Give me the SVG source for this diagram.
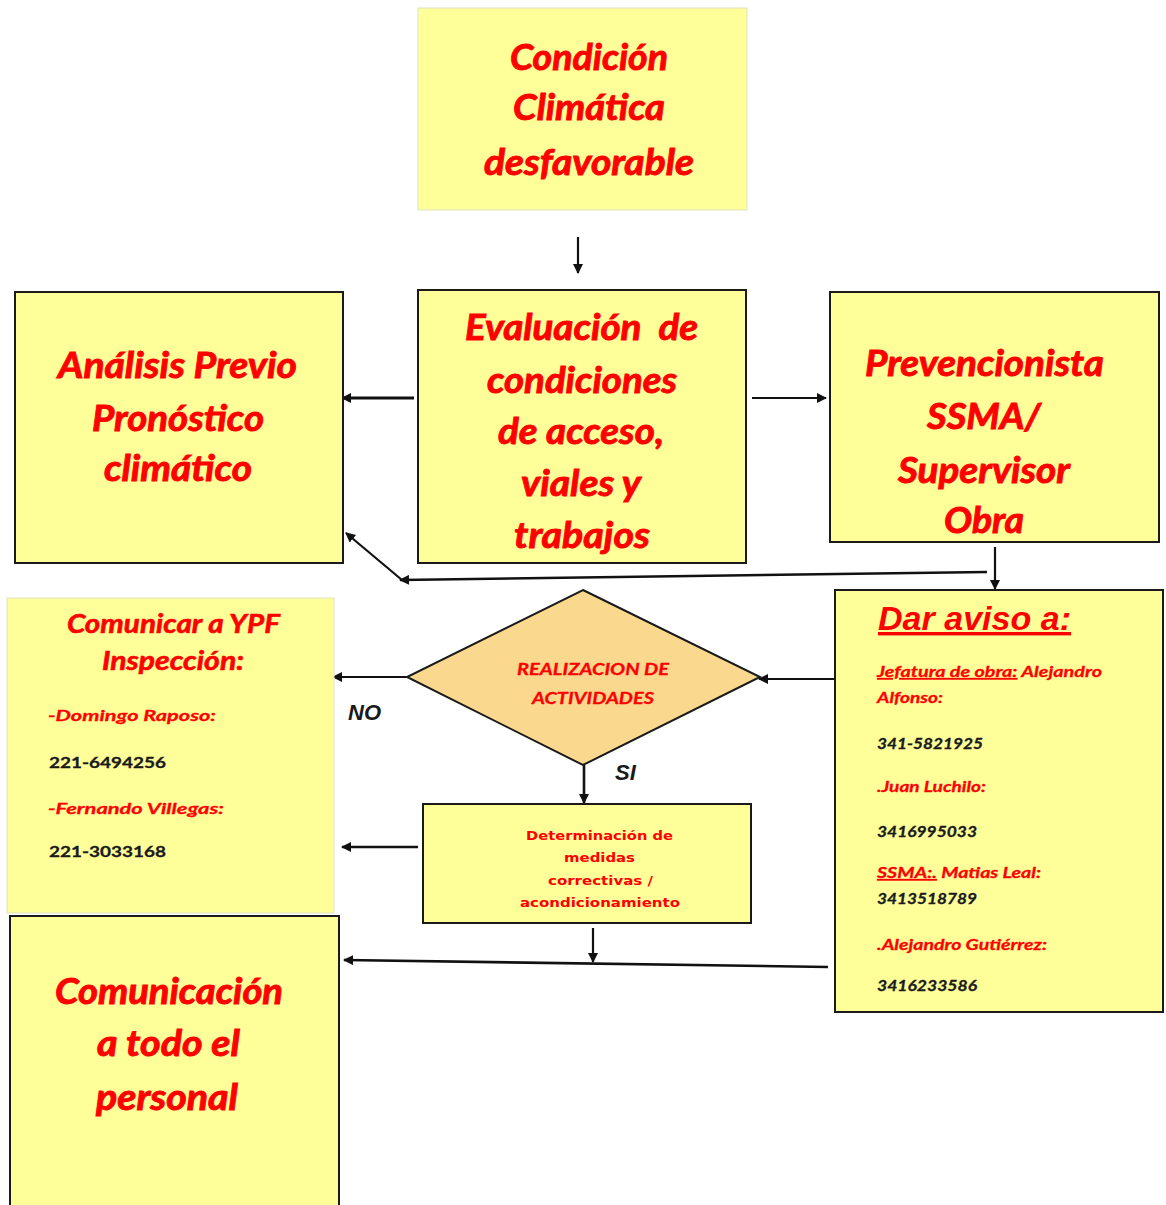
<svg xmlns="http://www.w3.org/2000/svg" width="1166" height="1205" viewBox="0 0 1166 1205">
  <style>
    .box { fill: #FFFF99; stroke: #1a1a1a; stroke-width: 2; }
    .soft { fill: #FFFF99; stroke: #e2e2c4; stroke-width: 1; }
    .dia { fill: #FAD98E; stroke: #1a1a1a; stroke-width: 2; }
    .big { font-family: Lato, "Open Sans", "Liberation Sans", sans-serif; font-weight: 700; font-style: italic; font-size: 36px; fill: #FF0000; stroke: #FF0000; stroke-width: 0.9; }
    .mid { font-family: Lato, "Open Sans", "Liberation Sans", sans-serif; font-weight: 700; font-style: italic; font-size: 27px; fill: #FF0000; stroke: #FF0000; stroke-width: 0.6; }
    .sm { font-family: Lato, "Open Sans", "Liberation Sans", sans-serif; font-weight: 700; font-style: italic; font-size: 16px; fill: #FF0000; stroke: #FF0000; stroke-width: 0.3; }
    .num { font-family: Lato, "Open Sans", "Liberation Sans", sans-serif; font-weight: 700; font-size: 16px; fill: #1a1a1a; stroke: #1a1a1a; stroke-width: 0.3; }
    .numi { font-family: Lato, "Open Sans", "Liberation Sans", sans-serif; font-weight: 700; font-style: italic; font-size: 15px; fill: #1a1a1a; stroke: #1a1a1a; stroke-width: 0.3; }
    .head { font-family: "Liberation Sans", Arial, sans-serif; font-weight: 700; font-style: italic; font-size: 34px; fill: #FF0000; }
    .tiny { font-family: "DejaVu Sans", Verdana, sans-serif; font-weight: 700; font-size: 13px; fill: #FF0000; }
    .dtxt { font-family: Lato, "Open Sans", "Liberation Sans", sans-serif; font-weight: 700; font-style: italic; font-size: 17px; fill: #FF0000; stroke: #FF0000; stroke-width: 0.3; }
    .lbl { font-family: "Liberation Sans", Arial, sans-serif; font-weight: 700; font-style: italic; font-size: 22px; fill: #1a1a1a; }
    .conn path { fill: none; stroke: #111; stroke-width: 2.2; }
    .u { text-decoration: underline; }
  </style>
  <defs>
    <marker id="arrow" viewBox="0 0 10 10" refX="9" refY="5" markerWidth="10" markerHeight="10" markerUnits="userSpaceOnUse" orient="auto">
      <path d="M0,0 L10,5 L0,10 z" fill="#111"/>
    </marker>
  </defs>

  <!-- Connectors -->
  <g id="connectors" class="conn">
    <path d="M578,237 L578,273" marker-end="url(#arrow)"/>
    <path d="M414,398 L342,398" marker-end="url(#arrow)" style="stroke-width:3"/>
    <path d="M752,398 L826,398" marker-end="url(#arrow)"/>
    <path d="M995,547 L995,589" marker-end="url(#arrow)"/>
    <path d="M987,572 L400,580" marker-end="url(#arrow)" style="stroke-width:2.6"/>
    <path d="M402,580 L346,533" marker-end="url(#arrow)"/>
    <path d="M835,679 L759,679" marker-end="url(#arrow)"/>
    <path d="M407,677 L333,677" marker-end="url(#arrow)"/>
    <path d="M584,765 L584,803" marker-end="url(#arrow)" style="stroke-width:2.6"/>
    <path d="M418,847 L342,847" marker-end="url(#arrow)" style="stroke-width:2.6"/>
    <path d="M593,928 L593,962" marker-end="url(#arrow)"/>
    <path d="M828,967 L344,960" marker-end="url(#arrow)" style="stroke-width:2.6"/>
  </g>

  <!-- Condición climática -->
  <g id="condicion">
    <rect class="soft" x="418" y="8" width="329" height="202"/>
    <text class="big" x="510" y="70" textLength="158" lengthAdjust="spacingAndGlyphs">Condición</text>
    <text class="big" x="513" y="120" textLength="152" lengthAdjust="spacingAndGlyphs">Climática</text>
    <text class="big" x="484" y="175" textLength="210" lengthAdjust="spacingAndGlyphs">desfavorable</text>
  </g>

  <!-- Evaluación -->
  <g id="evaluacion">
    <rect class="box" x="418" y="290" width="328" height="273"/>
    <text class="big" x="465" y="340" textLength="233" lengthAdjust="spacingAndGlyphs" xml:space="preserve">Evaluación  de</text>
    <text class="big" x="487" y="393" textLength="190" lengthAdjust="spacingAndGlyphs">condiciones</text>
    <text class="big" x="498" y="444" textLength="166" lengthAdjust="spacingAndGlyphs">de acceso,</text>
    <text class="big" x="521" y="496" textLength="120" lengthAdjust="spacingAndGlyphs">viales y</text>
    <text class="big" x="514" y="548" textLength="136" lengthAdjust="spacingAndGlyphs">trabajos</text>
  </g>

  <!-- Análisis previo -->
  <g id="analisis">
    <rect class="box" x="15" y="292" width="328" height="271"/>
    <text class="big" x="58" y="378" textLength="239" lengthAdjust="spacingAndGlyphs">Análisis Previo</text>
    <text class="big" x="92" y="431" textLength="172" lengthAdjust="spacingAndGlyphs">Pronóstico</text>
    <text class="big" x="104" y="481" textLength="148" lengthAdjust="spacingAndGlyphs">climático</text>
  </g>

  <!-- Prevencionista -->
  <g id="prevencionista">
    <rect class="box" x="830" y="292" width="329" height="250"/>
    <text class="big" x="865" y="376" textLength="239" lengthAdjust="spacingAndGlyphs">Prevencionista</text>
    <text class="big" x="927" y="429" textLength="114" lengthAdjust="spacingAndGlyphs">SSMA/</text>
    <text class="big" x="898" y="483" textLength="172" lengthAdjust="spacingAndGlyphs">Supervisor</text>
    <text class="big" x="944" y="533" textLength="80" lengthAdjust="spacingAndGlyphs">Obra</text>
  </g>

  <!-- Decisión -->
  <g id="decision">
    <path class="dia" d="M583,590 L760,677 L583,765 L407,677 Z"/>
    <text class="dtxt" x="517" y="675" textLength="152" lengthAdjust="spacingAndGlyphs">REALIZACION DE</text>
    <text class="dtxt" x="532" y="704" textLength="122" lengthAdjust="spacingAndGlyphs">ACTIVIDADES</text>
    <text class="lbl" x="348" y="720">NO</text>
    <text class="lbl" x="615" y="780">SI</text>
  </g>

  <!-- Comunicar a YPF -->
  <g id="comunicar-ypf">
    <rect class="soft" x="7" y="598" width="327" height="315"/>
    <text class="mid" x="67" y="633" textLength="213" lengthAdjust="spacingAndGlyphs">Comunicar a YPF</text>
    <text class="mid" x="102" y="670" textLength="142" lengthAdjust="spacingAndGlyphs">Inspección:</text>
    <text class="sm" x="48" y="721" textLength="168" lengthAdjust="spacingAndGlyphs">-Domingo Raposo:</text>
    <text class="num" x="49" y="768" textLength="117" lengthAdjust="spacingAndGlyphs">221-6494256</text>
    <text class="sm" x="48" y="814" textLength="176" lengthAdjust="spacingAndGlyphs">-Fernando Villegas:</text>
    <text class="num" x="49" y="857" textLength="117" lengthAdjust="spacingAndGlyphs">221-3033168</text>
  </g>

  <!-- Dar aviso -->
  <g id="dar-aviso">
    <rect class="box" x="835" y="590" width="328" height="422"/>
    <text class="head u" x="878" y="630" textLength="193" lengthAdjust="spacingAndGlyphs">Dar aviso a:</text>
    <text class="sm" x="877" y="677" textLength="225" lengthAdjust="spacingAndGlyphs"><tspan class="u">Jefatura de obra:</tspan> Alejandro</text>
    <text class="sm" x="877" y="703" textLength="66" lengthAdjust="spacingAndGlyphs">Alfonso:</text>
    <text class="numi" x="877" y="749" textLength="106" lengthAdjust="spacingAndGlyphs">341-5821925</text>
    <text class="sm" x="877" y="792" textLength="109" lengthAdjust="spacingAndGlyphs">.Juan Luchilo:</text>
    <text class="numi" x="877" y="837" textLength="100" lengthAdjust="spacingAndGlyphs">3416995033</text>
    <text class="sm" x="877" y="878" textLength="164" lengthAdjust="spacingAndGlyphs"><tspan class="u">SSMA:.</tspan> Matias Leal:</text>
    <text class="numi" x="877" y="904" textLength="100" lengthAdjust="spacingAndGlyphs">3413518789</text>
    <text class="sm" x="877" y="950" textLength="170" lengthAdjust="spacingAndGlyphs">.Alejandro Gutiérrez:</text>
    <text class="numi" x="877" y="991" textLength="100" lengthAdjust="spacingAndGlyphs">3416233586</text>
  </g>

  <!-- Determinación de medidas -->
  <g id="determinacion">
    <rect class="box" x="423" y="804" width="328" height="119"/>
    <text class="tiny" x="526" y="840" textLength="147" lengthAdjust="spacingAndGlyphs">Determinación de</text>
    <text class="tiny" x="564" y="862" textLength="71" lengthAdjust="spacingAndGlyphs">medidas</text>
    <text class="tiny" x="548" y="885" textLength="105" lengthAdjust="spacingAndGlyphs">correctivas /</text>
    <text class="tiny" x="520" y="907" textLength="160" lengthAdjust="spacingAndGlyphs">acondicionamiento</text>
  </g>

  <!-- Comunicación al personal -->
  <g id="comunicacion">
    <rect class="box" x="10" y="916" width="329" height="300"/>
    <text class="big" x="55" y="1004" textLength="228" lengthAdjust="spacingAndGlyphs">Comunicación</text>
    <text class="big" x="97" y="1056" textLength="143" lengthAdjust="spacingAndGlyphs">a todo el</text>
    <text class="big" x="96" y="1110" textLength="142" lengthAdjust="spacingAndGlyphs">personal</text>
  </g>
</svg>
